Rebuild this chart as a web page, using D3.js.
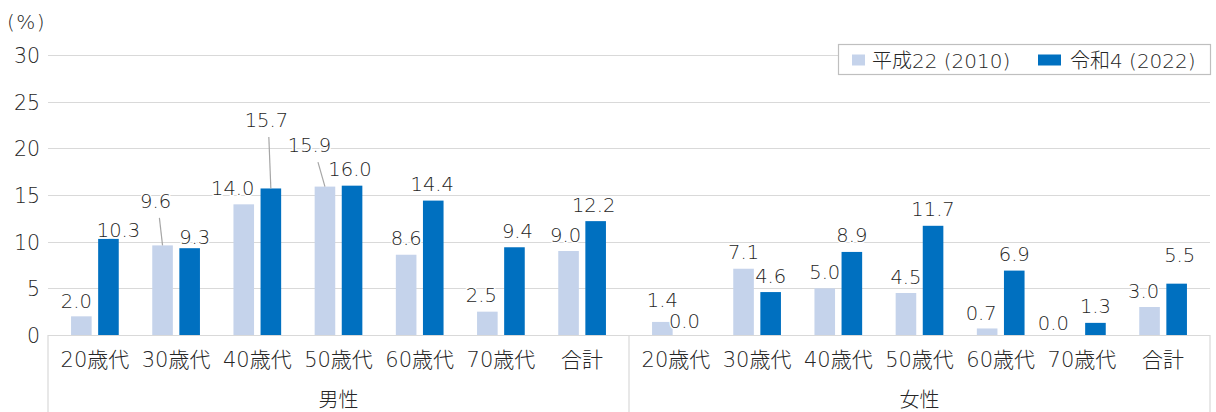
<!DOCTYPE html>
<html lang="ja">
<head>
<meta charset="utf-8">
<script src="https://cdn.jsdelivr.net/npm/d3@7"></script>
<style>
  html, body { margin: 0; padding: 0; background: #fff; }
  svg { display: block; }
  svg text { font-family: "DejaVu Sans", "Noto Sans CJK JP", sans-serif; font-weight: 200; }
</style>
</head>
<body>
<svg id="chart" width="1216" height="412"></svg>
<script>
// Groups, age categories and the two survey years
const groups = ["男性", "女性"];
const categories = ["20歳代", "30歳代", "40歳代", "50歳代", "60歳代", "70歳代", "合計"];
const seriesNames = ["平成22 (2010)", "令和4 (2022)"];

// Rates (%) per category, in the order of `categories`
const male2010 = [2.0, 9.6, 14.0, 15.9, 8.6, 2.5, 9.0];
const male2022 = [10.3, 9.3, 15.7, 16.0, 14.4, 9.4, 12.2];
const female2010 = [1.4, 7.1, 5.0, 4.5, 0.7, 0.0, 3.0];
const female2022 = [0.0, 4.6, 8.9, 11.7, 6.9, 1.3, 5.5];

const yTicks = [0, 5, 10, 15, 20, 25, 30];

// Label nudges (px) from the default spot centred above each bar; leader = draw a line to the bar
const labelNudge = {
  "男性|20歳代|0": { dx: -5, dy: 1 },
  "男性|20歳代|1": { dx: 10, dy: 8 },
  "男性|30歳代|0": { dx: -7, dy: -28, leader: true },
  "男性|30歳代|1": { dx: 5, dy: 5 },
  "男性|40歳代|0": { dx: -11, dy: 0 },
  "男性|40歳代|1": { dx: -4.5, dy: -52, leader: true },
  "男性|50歳代|0": { dx: -15.5, dy: -25, leader: true },
  "男性|50歳代|1": { dx: -2, dy: 0 },
  "男性|60歳代|1": { dx: -1, dy: 0 },
  "男性|70歳代|0": { dx: -6, dy: 0 },
  "男性|70歳代|1": { dx: 3, dy: 0 },
  "男性|合計|0": { dx: -3, dy: 0 },
  "男性|合計|1": { dx: -2, dy: 0 },
  "女性|20歳代|0": { dx: 0, dy: -5.5 },
  "女性|20歳代|1": { dx: -5, dy: 2.5 },
  "女性|60歳代|0": { dx: -6, dy: 1 },
  "女性|70歳代|0": { dx: -15, dy: 4.5 },
  "女性|合計|0": { dx: -6, dy: 0 },
  "女性|合計|1": { dx: 3, dy: -12 }
};

const colors = ["#c5d3eb", "#0070c0"];
const textColor = "#262626";
const gridColor = "#d9d9d9";

const rows = [];
groups.forEach((g, gi) => {
  const vals = gi === 0 ? [male2010, male2022] : [female2010, female2022];
  categories.forEach((c, ci) => {
    rows.push({ group: g, cat: c, values: [vals[0][ci], vals[1][ci]] });
  });
});

const svg = d3.select("#chart");
const plot = { left: 48, right: 1210, top: 55, bottom: 335, floor: 412 };

const y = d3.scaleLinear().domain([0, 30]).range([plot.bottom, plot.top]);
const xGroup = d3.scaleBand().domain(groups).range([plot.left, plot.right]).padding(0);
const groupInset = 6.3;
const xCat = {};
groups.forEach(g => {
  xCat[g] = d3.scaleBand().domain(categories)
    .range([xGroup(g) + groupInset, xGroup(g) + xGroup.bandwidth() - groupInset]).padding(0);
});
const xSeries = d3.scaleBand().domain([0, 1])
  .range([0, xCat[groups[0]].bandwidth()]).paddingInner(0.24).paddingOuter(0.618);

// Horizontal gridlines
svg.append("g")
  .selectAll("line")
  .data(yTicks.filter(t => t > 0))
  .join("line")
  .attr("x1", plot.left).attr("x2", plot.right)
  .attr("y1", d => Math.round(y(d)) + 0.5).attr("y2", d => Math.round(y(d)) + 0.5)
  .attr("stroke", gridColor).attr("stroke-width", 1);

// Y axis labels
const yAxis = svg.append("g")
  .attr("transform", `translate(${plot.left},0)`)
  .call(d3.axisLeft(y).tickValues(yTicks).tickSize(0).tickPadding(8));
yAxis.attr("font-family", null).attr("font-size", null);
yAxis.select(".domain").remove();
yAxis.selectAll("text")
  .attr("fill", textColor).style("font-size", "20.5px")
  .attr("dy", "0.36em");

svg.append("text")
  .attr("x", 7).attr("y", 29)
  .attr("fill", textColor).style("font-size", "20px").style("letter-spacing", "1.5px")
  .text("(%)");

// Bars
const catG = svg.append("g")
  .selectAll("g")
  .data(rows)
  .join("g")
  .attr("transform", d => `translate(${xCat[d.group](d.cat)},0)`);

catG.selectAll("rect")
  .data(d => d.values.map((v, i) => ({ v, i })))
  .join("rect")
  .attr("x", d => xSeries(d.i))
  .attr("width", xSeries.bandwidth())
  .attr("y", d => y(d.v))
  .attr("height", d => y(0) - y(d.v))
  .attr("fill", d => colors[d.i]);

// Category axis: baseline, group separators and labels
const axisG = svg.append("g");
axisG.append("line")
  .attr("x1", plot.left).attr("x2", plot.right)
  .attr("y1", plot.bottom + 0.5).attr("y2", plot.bottom + 0.5)
  .attr("stroke", gridColor).attr("stroke-width", 1.2);
const seps = [plot.left, xGroup(groups[1]), plot.right];
axisG.selectAll("line.sep")
  .data(seps)
  .join("line")
  .attr("class", "sep")
  .attr("x1", d => d).attr("x2", d => d)
  .attr("y1", plot.bottom).attr("y2", plot.floor)
  .attr("stroke", gridColor).attr("stroke-width", 1.2);

axisG.selectAll("text.cat")
  .data(rows)
  .join("text")
  .attr("class", "cat")
  .attr("x", d => xCat[d.group](d.cat) + xCat[d.group].bandwidth() / 2)
  .attr("y", 367)
  .attr("text-anchor", "middle")
  .attr("fill", textColor).style("font-size", "21px")
  .text(d => d.cat);

axisG.selectAll("text.grp")
  .data(groups)
  .join("text")
  .attr("class", "grp")
  .attr("x", d => xGroup(d) + xGroup.bandwidth() / 2)
  .attr("y", 407)
  .attr("text-anchor", "middle")
  .attr("fill", textColor).style("font-size", "20px")
  .text(d => d);

// Value labels
const labels = [];
rows.forEach(r => {
  r.values.forEach((v, i) => {
    const n = labelNudge[`${r.group}|${r.cat}|${i}`] || { dx: 0, dy: 0 };
    const bx = xCat[r.group](r.cat) + xSeries(i) + xSeries.bandwidth() / 2;
    const by = y(v);
    labels.push({ v, bx, by, x: bx + n.dx, y: by - 9.5 + n.dy, leader: !!n.leader });
  });
});

svg.append("g")
  .selectAll("line")
  .data(labels.filter(d => d.leader))
  .join("line")
  .attr("x1", d => d.x + (d.bx - d.x) * 0.55).attr("y1", d => d.y + 10)
  .attr("x2", d => d.bx).attr("y2", d => d.by)
  .attr("stroke", "#a6a6a6").attr("stroke-width", 1.2);

svg.append("g")
  .selectAll("text")
  .data(labels)
  .join("text")
  .attr("x", d => d.x).attr("y", d => d.y)
  .attr("text-anchor", "middle")
  .attr("fill", textColor)
  .attr("stroke", "#fff").attr("stroke-width", 3).attr("paint-order", "stroke")
  .style("font-size", "19.5px")
  .text(d => d3.format(".1f")(d.v));

// Legend
const lg = svg.append("g").attr("transform", "translate(838.5,44.5)");
lg.append("rect").attr("width", 372).attr("height", 30)
  .attr("fill", "#fff").attr("stroke", "#bfbfbf").attr("stroke-width", 1.2);
const legendItems = [
  { name: seriesNames[0], color: colors[0], mx: 13.5, mw: 13, tx: 33.5 },
  { name: seriesNames[1], color: colors[1], mx: 199.5, mw: 23, tx: 231.5 }
];
legendItems.forEach(it => {
  lg.append("rect").attr("x", it.mx).attr("y", 10).attr("width", it.mw).attr("height", 11).attr("fill", it.color);
  lg.append("text").attr("x", it.tx).attr("y", 23)
    .attr("fill", textColor).style("font-size", "20px")
    .text(it.name);
});
</script>
</body>
</html>
